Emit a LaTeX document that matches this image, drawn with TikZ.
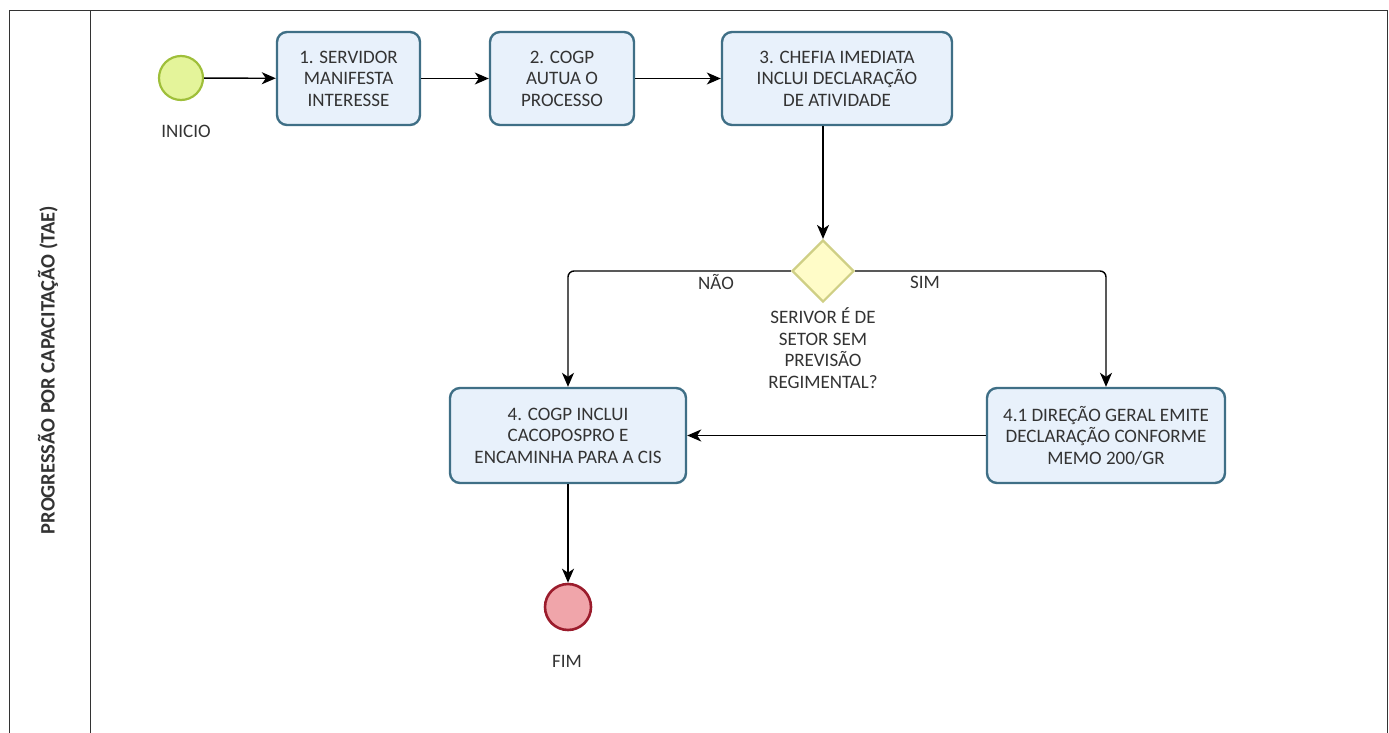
\documentclass[tikz,border=0pt]{standalone}
\usepackage{fontspec}
\setmainfont{Carlito}
\usetikzlibrary{arrows.meta,shapes.geometric}
\definecolor{boxfill}{HTML}{E8F1FB}
\definecolor{boxline}{HTML}{3F6F86}
\definecolor{startfill}{HTML}{E4F49A}
\definecolor{startline}{HTML}{9FBF3A}
\definecolor{gwfill}{HTML}{FFFCC8}
\definecolor{gwline}{HTML}{CFCF85}
\definecolor{endfill}{HTML}{F0A5AA}
\definecolor{endline}{HTML}{9B1C2C}
\definecolor{txt}{HTML}{333333}
\tikzset{
  task/.style={draw=boxline, line width=2.4pt, fill=boxfill, rounded corners=10pt,
    align=center, font=\fontsize{19}{21.5}\selectfont, text=txt, inner sep=0pt},
  lbl/.style={align=center, font=\fontsize{19}{21.5}\selectfont, text=txt, inner sep=0pt},
  flow/.style={line width=1.4pt, -{Stealth[length=14pt,width=12pt,inset=4pt]}, rounded corners=6pt},
}
\begin{document}
\begin{tikzpicture}[x=1pt,y=-1pt]
\useasboundingbox (0,0) rectangle (1389,733);
% pool
\draw[line width=1pt, black!80] (9,740) -- (9,11) -- (1387,11) -- (1387,740);
\draw[line width=1pt, black!80] (90,11) -- (90,740);
\node[rotate=90, font=\bfseries\fontsize{20.5}{22}\selectfont, text=txt] (lane) at (48,370) {PROGRESSÃO POR CAPACITAÇÃO (TAE)};
% events
\node[circle, draw=startline, fill=startfill, line width=2.2pt, minimum size=44pt, inner sep=0pt] (start) at (181,78) {};
\node[lbl] (startl) at (186,131) {INICIO};
\node[task, minimum width=143pt, minimum height=93pt] (t1) at (348.5,78.5) {1. SERVIDOR\\MANIFESTA\\INTERESSE};
\node[task, minimum width=144pt, minimum height=93pt] (t2) at (562,78.5) {2. COGP\\AUTUA O\\PROCESSO};
\node[task, minimum width=230pt, minimum height=93pt] (t3) at (837,78.5) {3. CHEFIA IMEDIATA\\INCLUI DECLARAÇÃO\\DE ATIVIDADE};
\node[diamond, draw=gwline, fill=gwfill, line width=2.2pt, minimum width=62pt, minimum height=62pt, inner sep=0pt] (gw) at (823,271) {};
\node[lbl] (gwl) at (823,348) {SERIVOR É DE\\SETOR SEM\\PREVISÃO\\REGIMENTAL?};
\node[task, minimum width=236pt, minimum height=95pt] (t4) at (568,435.5) {4. COGP INCLUI\\CACOPOSPRO E\\ENCAMINHA PARA A CIS};
\node[task, minimum width=238pt, minimum height=95pt] (t41) at (1106,435.5) {4.1 DIREÇÃO GERAL EMITE\\DECLARAÇÃO CONFORME\\MEMO 200/GR};
\node[circle, draw=endline, fill=endfill, line width=2.6pt, minimum size=46pt, inner sep=0pt] (end) at (568,607) {};
\node[lbl] (endl) at (567,661) {FIM};
% flows
\draw[flow] (start) -- (t1);
\draw[flow] (t1) -- (t2);
\draw[flow] (t2) -- (t3);
\draw[flow] (t3.south -| gw) -- (gw.north);
\draw[flow] (gw.west) -- (568,271) -- (t4.north);
\draw[flow] (gw.east) -- (1106,271) -- (t41.north);
\draw[flow] (t41.west) -- (t4.east);
\draw[flow] (t4.south) -- (end.north);
\node[lbl] (no) at (716,282) {NÃO};
\node[lbl] (yes) at (925,282) {SIM};
\end{tikzpicture}
\end{document}
